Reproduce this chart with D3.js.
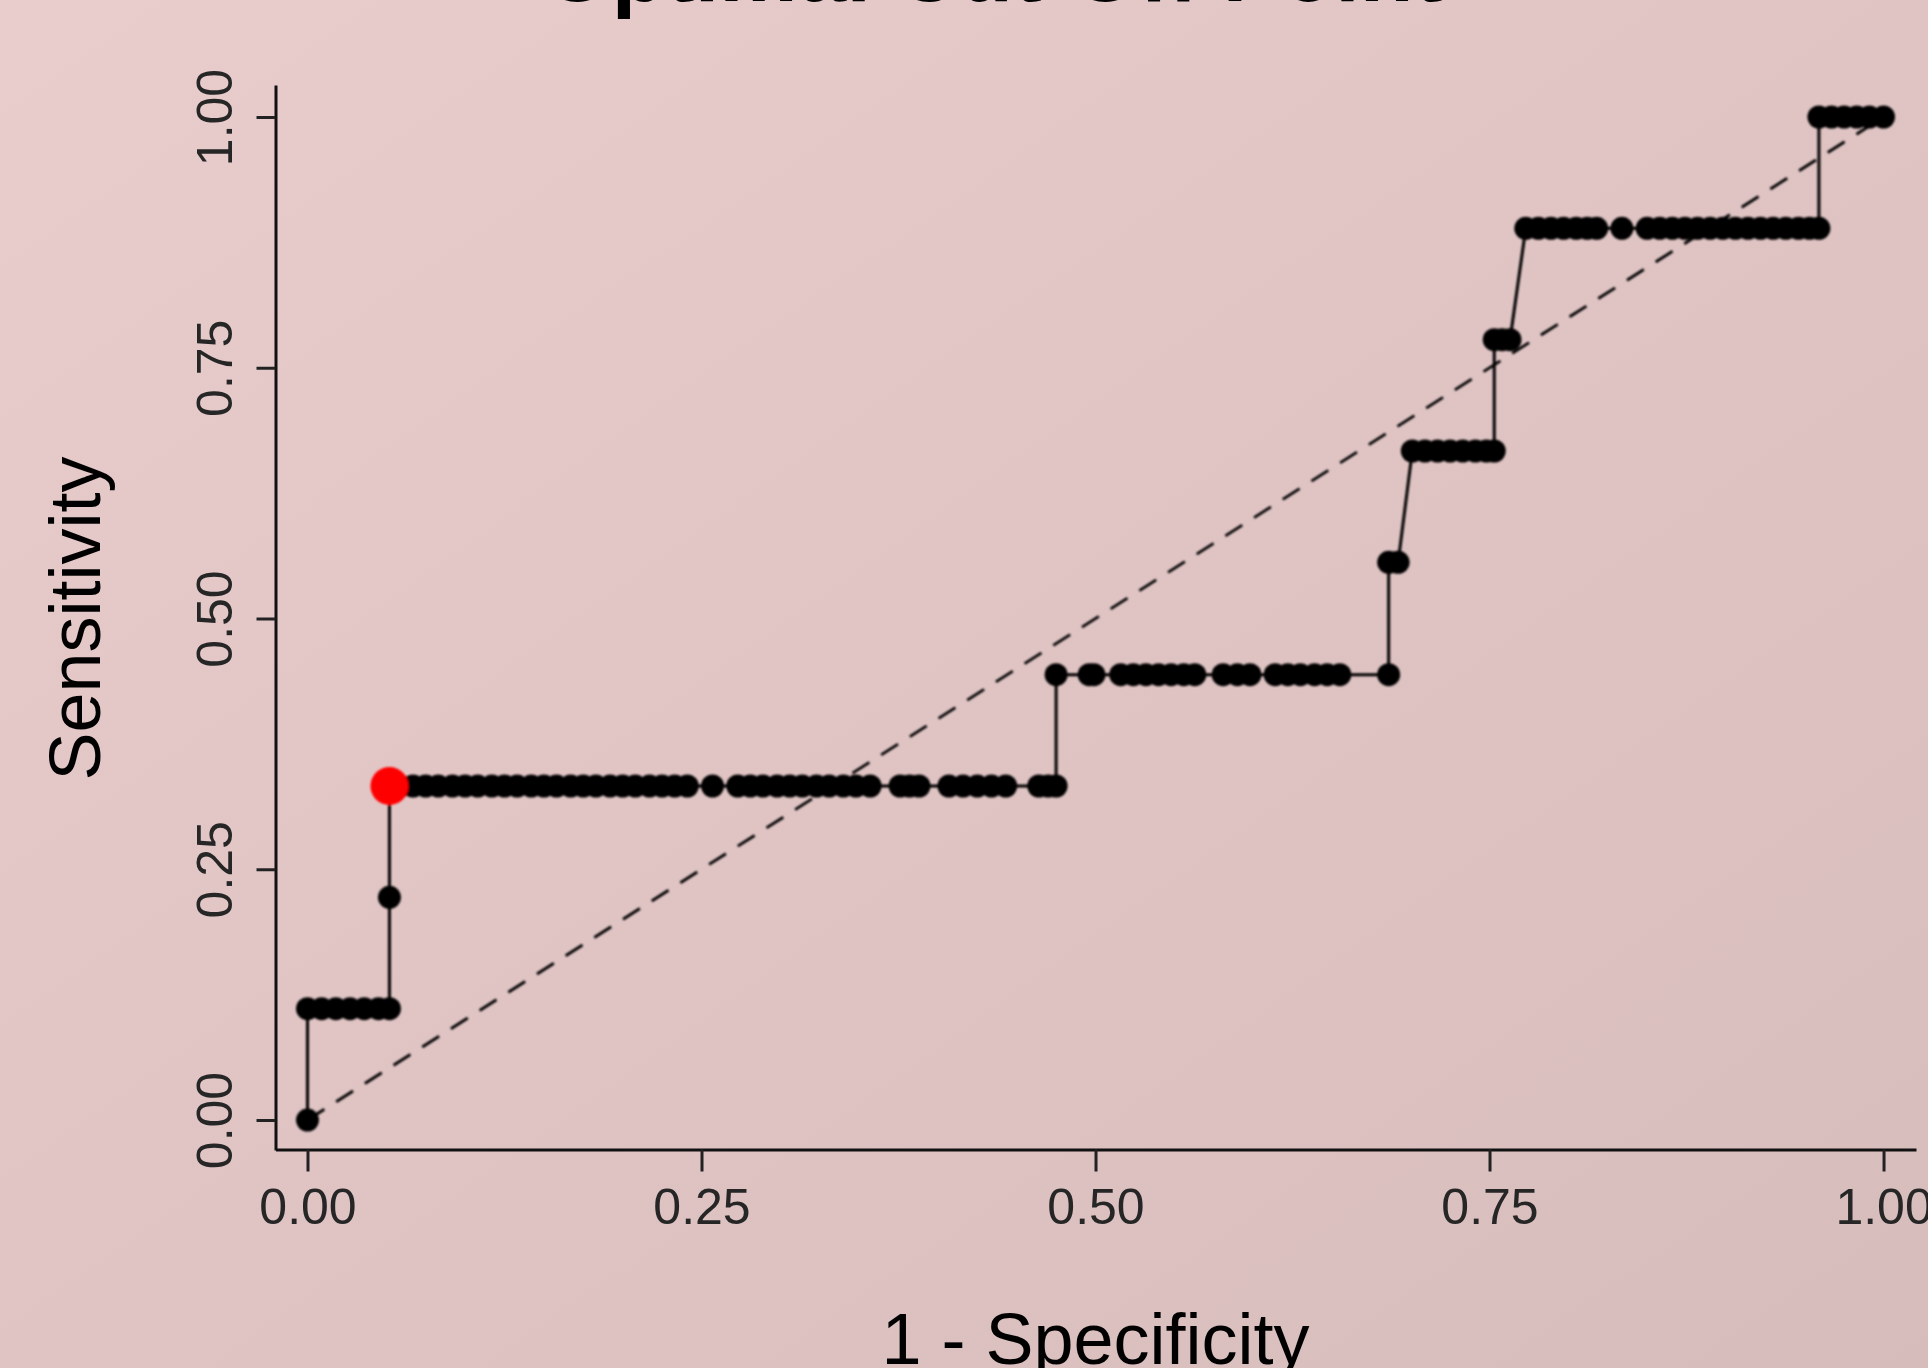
<!DOCTYPE html>
<html>
<head>
<meta charset="utf-8">
<script src="https://cdn.jsdelivr.net/npm/d3@7"></script>
<style>
  html, body { margin: 0; padding: 0; overflow: hidden; }
  body { width: 1928px; height: 1368px; }
</style>
</head>
<body>
<div id="chart"></div>
<script>
// ROC points, 1 - specificity (fpr) and sensitivity (tpr), in threshold order
var fpr = [0,
  0, 0.009, 0.018, 0.027, 0.036, 0.045, 0.052,
  0.052,
  0.052, 0.059, 0.067, 0.075, 0.083, 0.092, 0.100, 0.108, 0.117, 0.125, 0.133, 0.142,
  0.150, 0.158, 0.167, 0.175, 0.183, 0.192, 0.200, 0.208, 0.217, 0.225, 0.233, 0.241,
  0.257,
  0.273, 0.281, 0.289, 0.298, 0.306, 0.314, 0.323, 0.331, 0.340, 0.348, 0.357,
  0.376, 0.382, 0.388,
  0.407, 0.416, 0.425, 0.434, 0.443,
  0.464, 0.470, 0.475,
  0.475, 0.496, 0.499,
  0.516, 0.524, 0.532, 0.540, 0.548, 0.556, 0.563,
  0.581, 0.590, 0.598,
  0.614, 0.622, 0.630, 0.639, 0.647, 0.655,
  0.686,
  0.686, 0.692,
  0.701, 0.709, 0.717, 0.725, 0.733, 0.741, 0.748, 0.753,
  0.753, 0.758, 0.763,
  0.773, 0.781, 0.789, 0.797, 0.805, 0.812, 0.818,
  0.834,
  0.850, 0.858, 0.866, 0.874, 0.882, 0.890, 0.898, 0.906, 0.914, 0.922, 0.930, 0.938, 0.946, 0.953, 0.959,
  0.959, 0.967, 0.975, 0.983, 0.991, 1.000];

var tpr = [0,
  0.111, 0.111, 0.111, 0.111, 0.111, 0.111, 0.111,
  0.222,
  0.333, 0.333, 0.333, 0.333, 0.333, 0.333, 0.333, 0.333, 0.333, 0.333, 0.333, 0.333,
  0.333, 0.333, 0.333, 0.333, 0.333, 0.333, 0.333, 0.333, 0.333, 0.333, 0.333, 0.333,
  0.333,
  0.333, 0.333, 0.333, 0.333, 0.333, 0.333, 0.333, 0.333, 0.333, 0.333, 0.333,
  0.333, 0.333, 0.333,
  0.333, 0.333, 0.333, 0.333, 0.333,
  0.333, 0.333, 0.333,
  0.444, 0.444, 0.444,
  0.444, 0.444, 0.444, 0.444, 0.444, 0.444, 0.444,
  0.444, 0.444, 0.444,
  0.444, 0.444, 0.444, 0.444, 0.444, 0.444,
  0.444,
  0.556, 0.556,
  0.667, 0.667, 0.667, 0.667, 0.667, 0.667, 0.667, 0.667,
  0.778, 0.778, 0.778,
  0.889, 0.889, 0.889, 0.889, 0.889, 0.889, 0.889,
  0.889,
  0.889, 0.889, 0.889, 0.889, 0.889, 0.889, 0.889, 0.889, 0.889, 0.889, 0.889, 0.889, 0.889, 0.889, 0.889,
  1.000, 1.000, 1.000, 1.000, 1.000, 1.000];

// optimal cut-off point
var optFpr = [0.052];
var optTpr = [0.333];

var xTicks = [0, 0.25, 0.5, 0.75, 1];
var yTicks = [0, 0.25, 0.5, 0.75, 1];

var width = 1928,
    height = 1368;

var svg = d3.select("#chart")
  .append("svg")
    .attr("width", width)
    .attr("height", height)
    .style("display", "block");

var defs = svg.append("defs");

// background wash
var grad = defs.append("linearGradient")
    .attr("id", "bg")
    .attr("x1", "0%").attr("y1", "0%")
    .attr("x2", "100%").attr("y2", "100%");
grad.append("stop").attr("offset", "0%").attr("stop-color", "#e9cdcc");
grad.append("stop").attr("offset", "50%").attr("stop-color", "#e0c4c4");
grad.append("stop").attr("offset", "100%").attr("stop-color", "#d6bdbb");

// the reference is a soft, upscaled picture
defs.append("filter")
    .attr("id", "soft")
    .attr("x", "-5%").attr("y", "-5%")
    .attr("width", "110%").attr("height", "110%")
  .append("feGaussianBlur")
    .attr("stdDeviation", 1.3);

svg.append("rect")
    .attr("width", width)
    .attr("height", height)
    .attr("fill", "url(#bg)");

// scales (domain padded so the axis lines run past the first/last tick)
var x = d3.scaleLinear()
    .domain([-0.0203, 1.0206])
    .range([275.5, 1916]);

var y = d3.scaleLinear()
    .domain([-0.0299, 1.0319])
    .range([1150, 85]);

// title, mostly cropped off the top edge
svg.append("text")
    .attr("x", 993)
    .attr("y", 1)
    .attr("text-anchor", "middle")
    .attr("font-family", "Liberation Sans, Arial, sans-serif")
    .attr("font-weight", "bold")
    .attr("font-size", "88px")
    .attr("fill", "#000")
    .text("Optimal Cut-Off Point");

// x axis
var gx = svg.append("g")
    .attr("transform", "translate(0,1149.5)")
    .call(d3.axisBottom(x)
        .tickValues(xTicks)
        .tickFormat(d3.format(".2f"))
        .tickSize(22)
        .tickSizeOuter(0)
        .tickPadding(17));

// y axis
var gy = svg.append("g")
    .attr("transform", "translate(275.5,0)")
    .call(d3.axisLeft(y)
        .tickValues(yTicks)
        .tickFormat(d3.format(".2f"))
        .tickSize(19)
        .tickSizeOuter(0));

[gx, gy].forEach(function(g) {
  g.select(".domain").attr("stroke", "#111").attr("stroke-width", 3);
  g.selectAll(".tick line").attr("stroke", "#222").attr("stroke-width", 3);
  g.selectAll(".tick text")
      .attr("font-family", "Liberation Sans, Arial, sans-serif")
      .attr("font-size", "50px")
      .attr("fill", "#262626");
});

// y labels parallel to the axis
gy.selectAll(".tick text")
    .attr("x", null)
    .attr("dy", null)
    .attr("text-anchor", "middle")
    .attr("transform", "translate(-43.5,0) rotate(-90)");

// axis titles
svg.append("text")
    .attr("transform", "translate(100," + y(0.5) + ") rotate(-90)")
    .attr("text-anchor", "middle")
    .attr("font-family", "Liberation Sans, Arial, sans-serif")
    .attr("font-size", "72px")
    .attr("fill", "#000")
    .text("Sensitivity");

svg.append("text")
    .attr("x", x(0.5))
    .attr("y", 1364)
    .attr("text-anchor", "middle")
    .attr("font-family", "Liberation Sans, Arial, sans-serif")
    .attr("font-size", "72px")
    .attr("fill", "#000")
    .text("1 - Specificity");

var plot = svg.append("g").attr("filter", "url(#soft)");

// chance diagonal
plot.append("line")
    .attr("x1", x(0)).attr("y1", y(0))
    .attr("x2", x(1)).attr("y2", y(1))
    .attr("stroke", "#000")
    .attr("stroke-width", 2.8)
    .style("stroke-dasharray", "20, 14");

// ROC line
var pts = fpr.map(function(d, i) { return [d, tpr[i]]; });

plot.append("path")
    .datum(pts)
    .attr("fill", "none")
    .attr("stroke", "#000")
    .attr("stroke-width", 3)
    .attr("d", d3.line()
        .x(function(d) { return x(d[0]); })
        .y(function(d) { return y(d[1]); }));

// ROC points
plot.selectAll("circle.pt")
    .data(pts)
    .enter()
    .append("circle")
      .attr("class", "pt")
      .attr("cx", function(d) { return x(d[0]); })
      .attr("cy", function(d) { return y(d[1]); })
      .attr("r", 11.5)
      .style("fill", "#000");

// optimal point
plot.selectAll("circle.opt")
    .data(optFpr)
    .enter()
    .append("circle")
      .attr("class", "opt")
      .attr("cx", function(d) { return x(d); })
      .attr("cy", function(d, i) { return y(optTpr[i]); })
      .attr("r", 19)
      .style("fill", "#ff0000");
</script>
</body>
</html>
